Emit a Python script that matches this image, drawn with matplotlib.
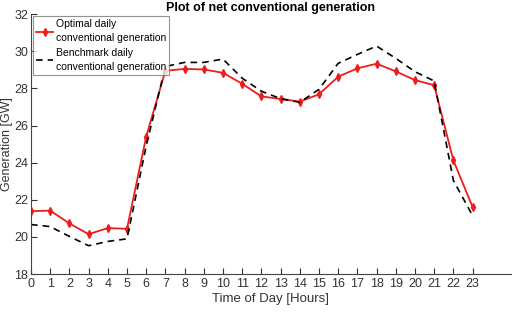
import matplotlib
matplotlib.use("Agg")
import matplotlib.pyplot as plt

HOURS = list(range(24))
OPTIMAL = [21.39, 21.42, 20.73, 20.15, 20.48, 20.44, 25.40, 28.95, 29.05, 29.02, 28.84, 28.25,
           27.57, 27.43, 27.29, 27.68, 28.63, 29.08, 29.33, 28.92, 28.45, 28.17, 24.13, 21.62]
BENCHMARK = [20.67, 20.56, 20.03, 19.53, 19.76, 19.90, 24.90, 29.18, 29.40, 29.40, 29.58, 28.55,
             27.85, 27.45, 27.25, 27.95, 29.35, 29.83, 30.28, 29.62, 28.90, 28.40, 23.05, 21.15]
Y_TICKS = list(range(18, 33, 2))

plt.rcParams['font.family'] = ['Liberation Sans', 'DejaVu Sans']

fig = plt.figure(figsize=(5.28, 3.14), dpi=100)
ax = fig.add_axes([0.0587, 0.127, 0.909, 0.828])

ax.plot(HOURS, OPTIMAL, '-', color='#ee1c1c', lw=1.3, marker='d', ms=4,
        mfc='#ee1c1c', mec='#ee1c1c', label='Optimal daily\nconventional generation')
ax.plot(HOURS, BENCHMARK, '--', color='black', lw=1.2, dashes=(4, 3),
        label='Benchmark daily\nconventional generation')

ax.set_xlim(0, 25)
ax.set_ylim(18, 32)
ax.set_xticks(HOURS)
ax.set_yticks(Y_TICKS)
ax.tick_params(direction='in', length=4, labelsize=9, colors='#333333', pad=3)
ax.tick_params(axis='y', pad=2)
for s in ['top', 'right']:
    ax.spines[s].set_visible(False)
for s in ['left', 'bottom']:
    ax.spines[s].set_color('#444444')

ax.set_xlabel('Time of Day [Hours]', fontsize=9.5, color='#333333', labelpad=2)
ax.set_ylabel('Generation [GW]', fontsize=9, color='#333333', labelpad=0)
ax.yaxis.set_label_coords(-0.037, 0.5)
ax.set_title('Plot of net conventional generation', fontsize=9, fontweight='bold', pad=2)

leg = ax.legend(loc='upper left', fontsize=7.5, fancybox=False, edgecolor='#777777',
                handlelength=1.6, borderpad=0.3, labelspacing=0.4, borderaxespad=0.2,
                handletextpad=0.3)
leg.get_frame().set_linewidth(0.8)
for t in leg.get_texts():
    t.set_linespacing(1.5)

fig.savefig('out.png', dpi=100)
